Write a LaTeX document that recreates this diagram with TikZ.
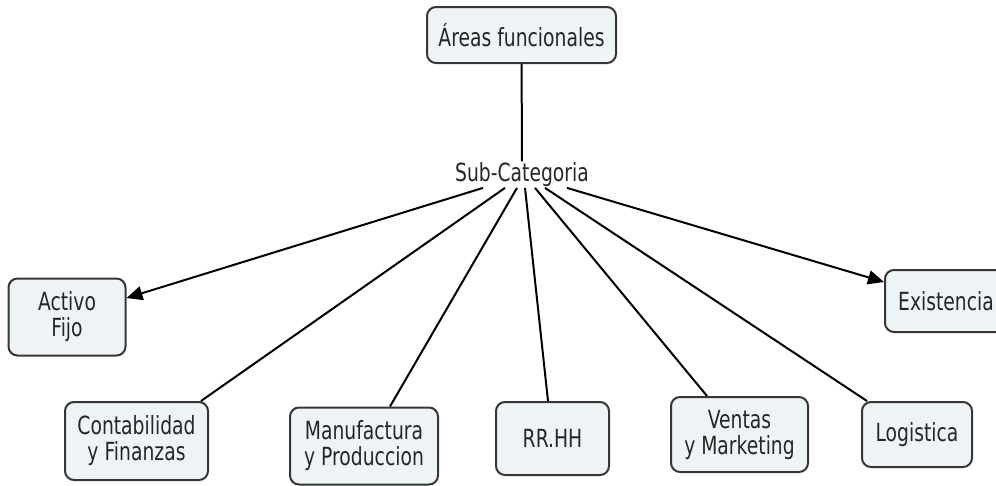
\documentclass[tikz,border=0pt]{standalone}
\usepackage{fontspec}
\setmainfont{DejaVu Sans}[FakeStretch=0.75]
\usetikzlibrary{arrows.meta}
\definecolor{boxfill}{HTML}{EEF3F6}
\definecolor{boxline}{HTML}{363636}
\definecolor{txt}{HTML}{262626}
\begin{document}
\begin{tikzpicture}[x=1pt,y=-1pt,
  concept/.style={draw=boxline, fill=boxfill, line width=2pt, rounded corners=9pt,
    align=center, inner sep=0pt, text=txt,
    font=\fontsize{25}{26}\selectfont},
  link/.style={line width=2pt, draw=black},
  arrowlink/.style={link, -{Triangle[length=16pt,width=14pt]}}]
\useasboundingbox (0,0) rectangle (996,485);
\clip (0,0) rectangle (996,485);

% top concept and linking phrase
\node[concept, minimum width=189pt, minimum height=56pt] (areas) at (521.5,35) {Áreas funcionales};
\node[anchor=base, inner sep=1pt, text=txt, font=\fontsize{25}{26}\selectfont] (sub) at (522,181.5) {Sub-Categoria};

% sub-categories
\node[concept, minimum width=117pt, minimum height=77pt] (act) at (67,317) {Activo\\Fijo};
\node[concept, minimum width=122pt, minimum height=62pt] (exi) at (946,301) {Existencia};
\node[concept, minimum width=143pt, minimum height=78pt] (cont) at (136.5,441) {Contabilidad\\y Finanzas};
\node[concept, minimum width=148pt, minimum height=77pt] (manu) at (364,446) {Manufactura\\y Produccion};
\node[concept, minimum width=113pt, minimum height=73pt] (rrhh) at (552.5,438.5) {RR.HH};
\node[concept, minimum width=137pt, minimum height=75pt] (vent) at (739.5,434.5) {Ventas\\y Marketing};
\node[concept, minimum width=110pt, minimum height=65pt] (logi) at (917,434.5) {Logistica};

% connectors
\draw[link] (areas) -- (sub);
\draw[arrowlink] ([xshift=-39pt]sub.south) -- ([yshift=19pt]act.east);
\draw[link] ([xshift=-17pt]sub.south) -- ([xshift=-8pt]cont.north east);
\draw[link] ([xshift=-5pt]sub.south) -- ([xshift=26pt]manu.north);
\draw[link] ([xshift=3pt]sub.south) -- ([xshift=-4.5pt]rrhh.north);
\draw[link] ([xshift=13pt]sub.south) -- ([xshift=-32.5pt]vent.north);
\draw[link] ([xshift=23pt]sub.south) -- ([xshift=6pt]logi.north west);
\draw[arrowlink] ([xshift=45pt]sub.south) -- ([yshift=19pt]exi.west);
\end{tikzpicture}
\end{document}
